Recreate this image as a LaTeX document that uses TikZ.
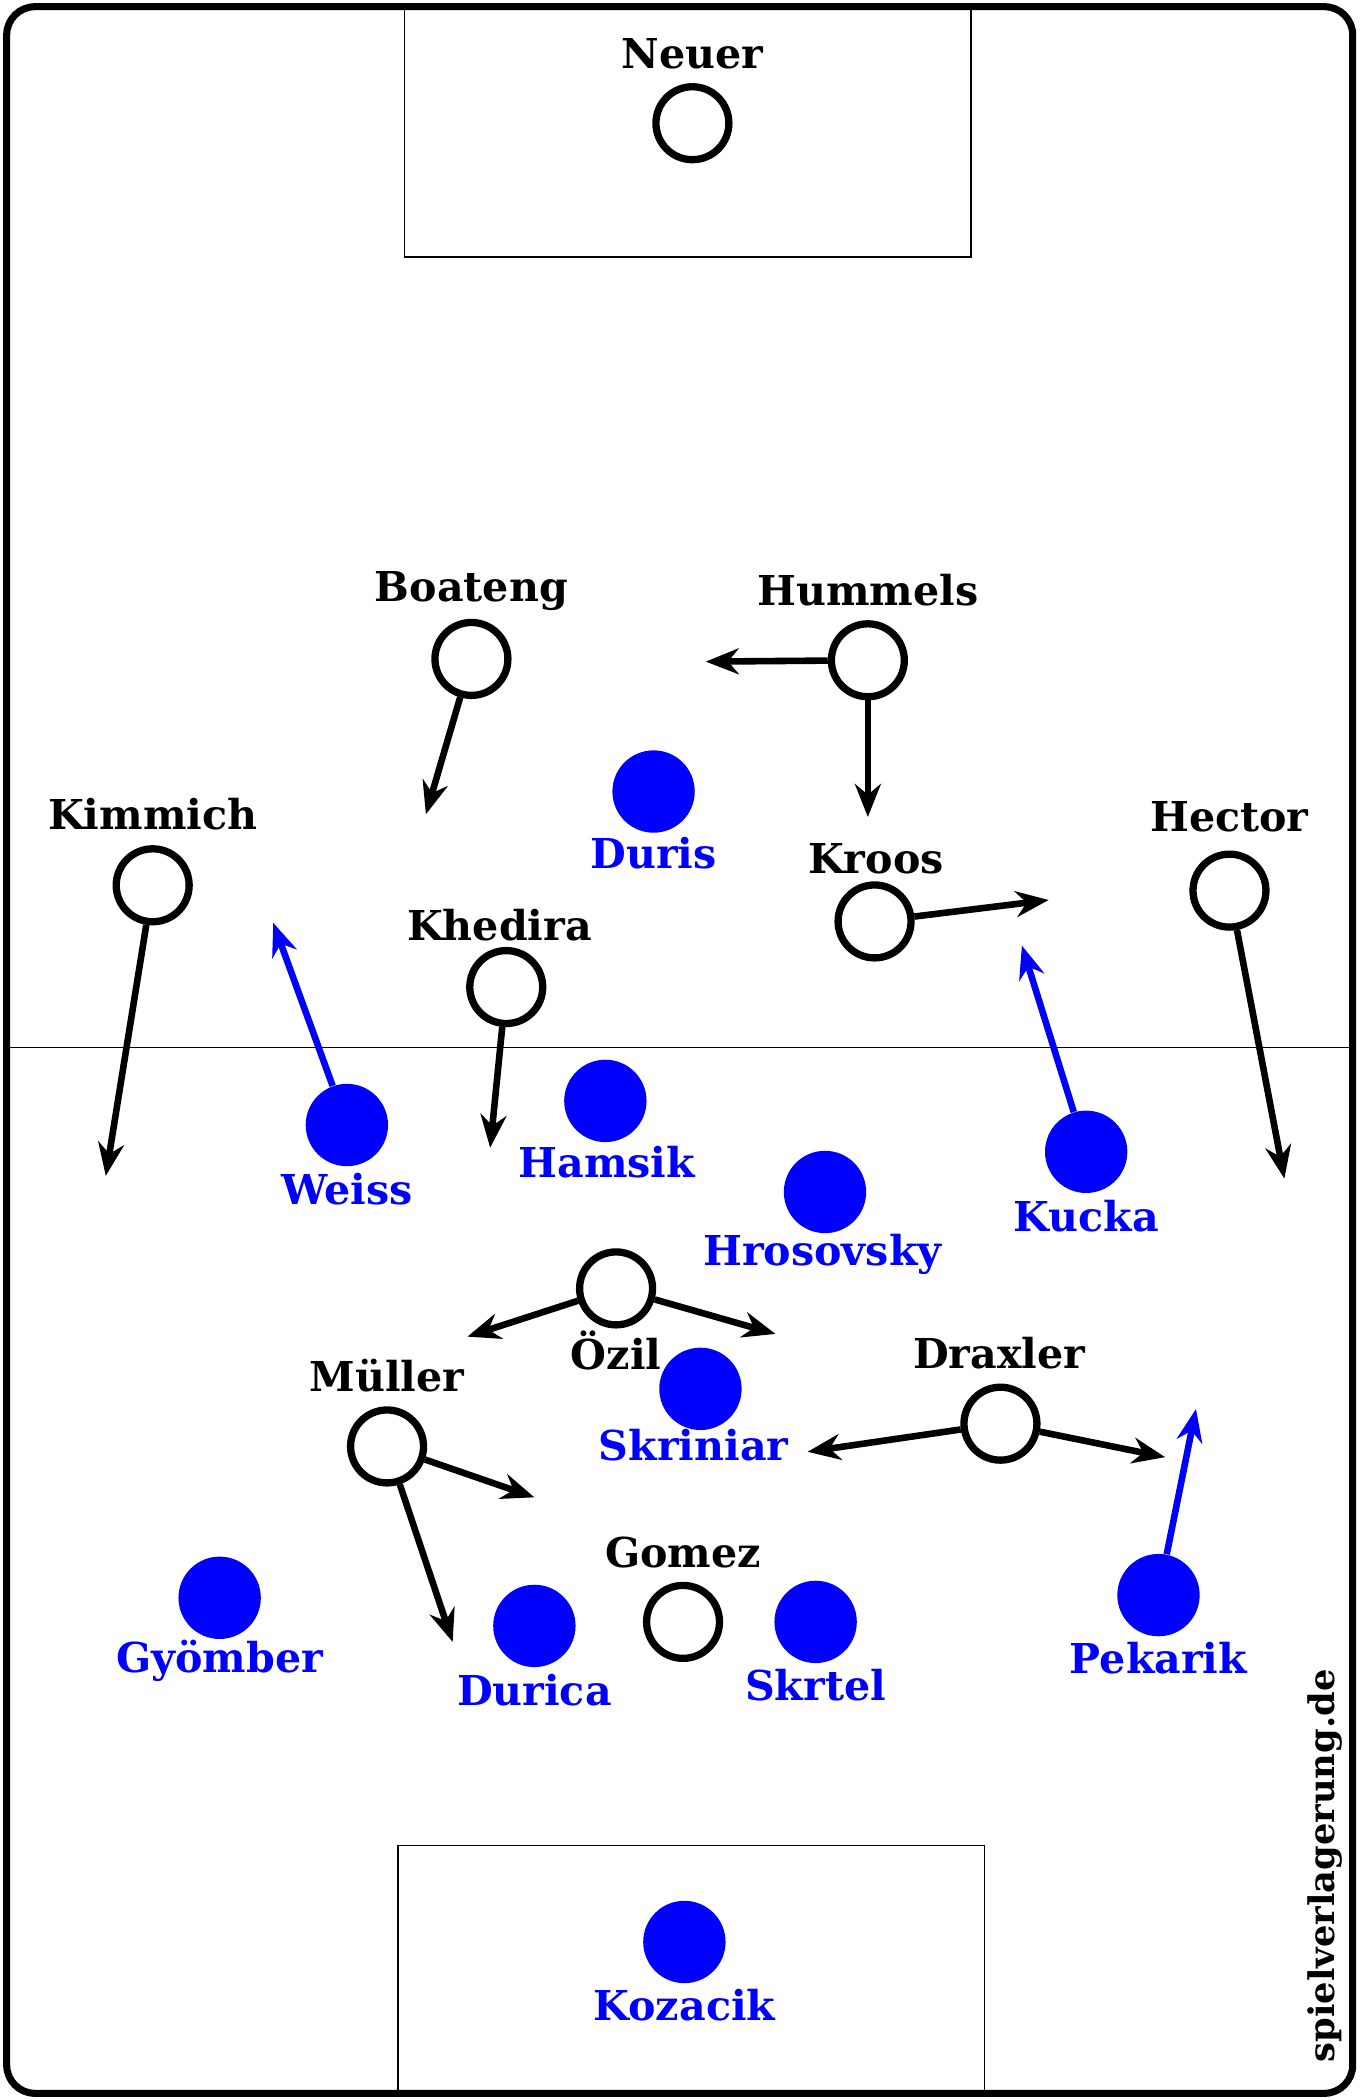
\documentclass[tikz,border=0pt]{standalone}
\usepackage{fontspec}
\setmainfont{DejaVu Serif}
\usetikzlibrary{arrows.meta}
\definecolor{pblue}{RGB}{0,0,255}
\begin{document}
\begin{tikzpicture}[x=0.02cm,y=-0.02cm,
 pl/.style={circle,draw,line width=3.1pt,minimum size=31pt,inner sep=0pt,fill=white},
 op/.style={circle,fill=pblue,minimum size=35pt,inner sep=0pt},
 bl/.style={font=\bfseries\fontsize{17.5}{19}\selectfont},
 ol/.style={font=\bfseries\fontsize{17.5}{19}\selectfont,text=pblue},
 arr/.style={line width=2.8pt,-{Stealth[length=14pt,width=11pt]}},
 barr/.style={arr,draw=pblue}]
\useasboundingbox (0,0) rectangle (1015,1568);
\draw[line width=3pt,rounded corners=12pt] (5,5) rectangle (1010,1563);
\draw[line width=0.7pt] (5,782) -- (1010,782);
\draw[line width=0.7pt] (302,5) rectangle (725,192);
\draw[line width=0.7pt] (297,1378) rectangle (735,1563);
% coordinates
\coordinate (a1) at (318,608); \coordinate (a2) at (527,494); \coordinate (a3) at (648,610);
\coordinate (a4) at (79,878); \coordinate (a5) at (959,880); \coordinate (a6) at (783,672);
\coordinate (a7) at (366,857); \coordinate (a8) at (349,998); \coordinate (a9) at (579,996);
\coordinate (a10) at (399,1118); \coordinate (a11) at (338,1226); \coordinate (a12) at (603,1084);
\coordinate (a13) at (870,1088); \coordinate (b1) at (204,689); \coordinate (b2) at (763,706);
\coordinate (b3) at (893,1052);
% opponents
\node[op] (duris) at (488,591) {}; \node[ol] (lduris) at (488,637) {Duris};
\node[op] (hamsik) at (452,822) {}; \node[ol] (lhamsik) at (453,868) {Hamsik};
\node[op] (weiss) at (259,840) {}; \node[ol] (lweiss) at (259,888) {Weiss};
\node[op] (hros) at (616,890) {}; \node[ol] (lhros) at (614,937) {Hrosovsky};
\node[op] (kucka) at (811,860) {}; \node[ol] (lkucka) at (811,908) {Kucka};
\node[op] (skriniar) at (523,1037) {}; \node[ol] (lskriniar) at (518,1079) {Skriniar};
\node[op] (gyomber) at (164,1193) {}; \node[ol] (lgyomber) at (164,1240) {Gyömber};
\node[op] (durica) at (399,1214) {}; \node[ol] (ldurica) at (399,1262) {Durica};
\node[op] (skrtel) at (609,1211) {}; \node[ol] (lskrtel) at (609,1258) {Skrtel};
\node[op] (pekarik) at (865,1191) {}; \node[ol] (lpekarik) at (865,1238) {Pekarik};
\node[op] (kozacik) at (511,1450) {}; \node[ol] (lkozacik) at (511,1497) {Kozacik};
\draw[barr] (weiss) -- (b1);
\draw[barr] (kucka) -- (b2);
\draw[barr] (pekarik) -- (b3);
% germany
\node[pl] (neuer) at (517,92) {}; \node[bl] at (517,40) {Neuer};
\node[pl] (boateng) at (352,492) {}; \node[bl] at (352,441) {Boateng};
\node[pl] (hummels) at (648,493) {}; \node[bl] at (648,441) {Hummels};
\node[pl] (kimmich) at (114,661) {}; \node[bl] at (114,608) {Kimmich};
\node[pl] (hector) at (918,665) {}; \node[bl] at (918,610) {Hector};
\node[pl] (kroos) at (653,688) {}; \node[bl] at (654,641) {Kroos};
\node[pl] (khedira) at (378,737) {}; \node[bl] at (373,691) {Khedira};
\node[pl] (ozil) at (460,962) {}; \node[bl] at (460,1008) {Özil};
\node[pl] (muller) at (289,1080) {}; \node[bl] at (289,1027) {Müller};
\node[pl] (draxler) at (747,1063) {}; \node[bl] at (746,1010) {Draxler};
\node[pl] (gomez) at (510,1211) {}; \node[bl] at (510,1159) {Gomez};
\draw[arr] (boateng) -- (a1);
\draw[arr] (hummels) -- (a2);
\draw[arr] (hummels) -- (a3);
\draw[arr] (kimmich) -- (a4);
\draw[arr] (hector) -- (a5);
\draw[arr] (kroos) -- (a6);
\draw[arr] (khedira) -- (a7);
\draw[arr] (ozil) -- (a8);
\draw[arr] (ozil) -- (a9);
\draw[arr] (muller) -- (a10);
\draw[arr] (muller) -- (a11);
\draw[arr] (draxler) -- (a12);
\draw[arr] (draxler) -- (a13);
\node[bl,rotate=90,font=\bfseries\fontsize{15}{17}\selectfont] (wm) at (989,1393) {spielverlagerung.de};
\end{tikzpicture}
\end{document}
